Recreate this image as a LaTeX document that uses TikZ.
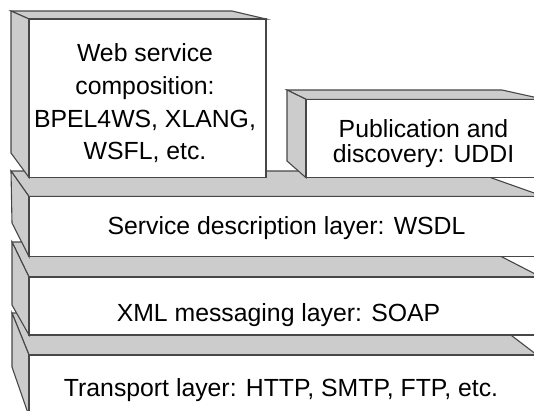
\documentclass[tikz,border=0pt]{standalone}
\usepackage{fontspec}
\setmainfont{Liberation Sans}
\begin{document}
\begin{tikzpicture}[x=1pt,y=-1pt,
  face/.style={draw=black!72,line width=1.1pt,line join=miter},
  shade/.style={face,fill=black!20},
  front/.style={face,fill=white},
  label/.style={font=\fontsize{24.8}{30}\selectfont,text=black,inner sep=0pt}]
\useasboundingbox (0,0) rectangle (534,410);
\clip (0,0) rectangle (534,410);

% Transport slab (bottom)
\draw[shade] (12,313) -- (482,313) -- (537,355) -- (29,355) -- cycle;
\draw[shade] (12,313) -- (29,355) -- (29,416) -- (12,367) -- cycle;
\draw[front] (29,355) rectangle (560,416);

% XML messaging slab
\draw[shade] (12,242) -- (473,242) -- (541,277) -- (29,277) -- cycle;
\draw[shade] (12,242) -- (29,277) -- (29,335) -- (12,305) -- cycle;
\draw[front] (29,277) rectangle (560,335);

% Service description slab
\draw[shade] (11,171) -- (472,171) -- (544,196.5) -- (29,196.5) -- cycle;
\draw[shade] (11,171) -- (29,196.5) -- (29,256.5) -- (12,223) -- cycle;
\draw[front] (29,196.5) rectangle (560,256.5);

% Composition block
\draw[shade] (11,11) -- (232,11) -- (266,19) -- (29,19) -- cycle;
\draw[shade] (11,11) -- (29,19) -- (29,177.5) -- (11,153) -- cycle;
\draw[front] (29,19) rectangle (266,177.5);

% Publication and discovery block
\draw[shade] (287,90) -- (502,90) -- (544,99.3) -- (306,99.3) -- cycle;
\draw[shade] (287,90) -- (306,99.3) -- (306,177.7) -- (287,161) -- cycle;
\draw[front] (306,99.3) rectangle (560,177.7);

% Labels
\node[label,align=center,font=\fontsize{24.8}{32.6}\selectfont] (comp) at (145,103.4)
  {Web service\\composition:\\BPEL4WS, XLANG,\\WSFL, etc.};
\node[label,align=center,font=\fontsize{24.8}{25}\selectfont] (pub) at (423.5,143.5)
  {Publication and\\discovery: UDDI};
\node[label,anchor=base] (wsdl) at (286.5,234) {Service description layer: WSDL};
\node[label,anchor=base] (soap) at (278.5,321.7) {XML messaging layer: SOAP};
\node[label,anchor=base] (transport) at (281,396.7) {Transport layer: HTTP, SMTP, FTP, etc.};
\end{tikzpicture}
\end{document}
